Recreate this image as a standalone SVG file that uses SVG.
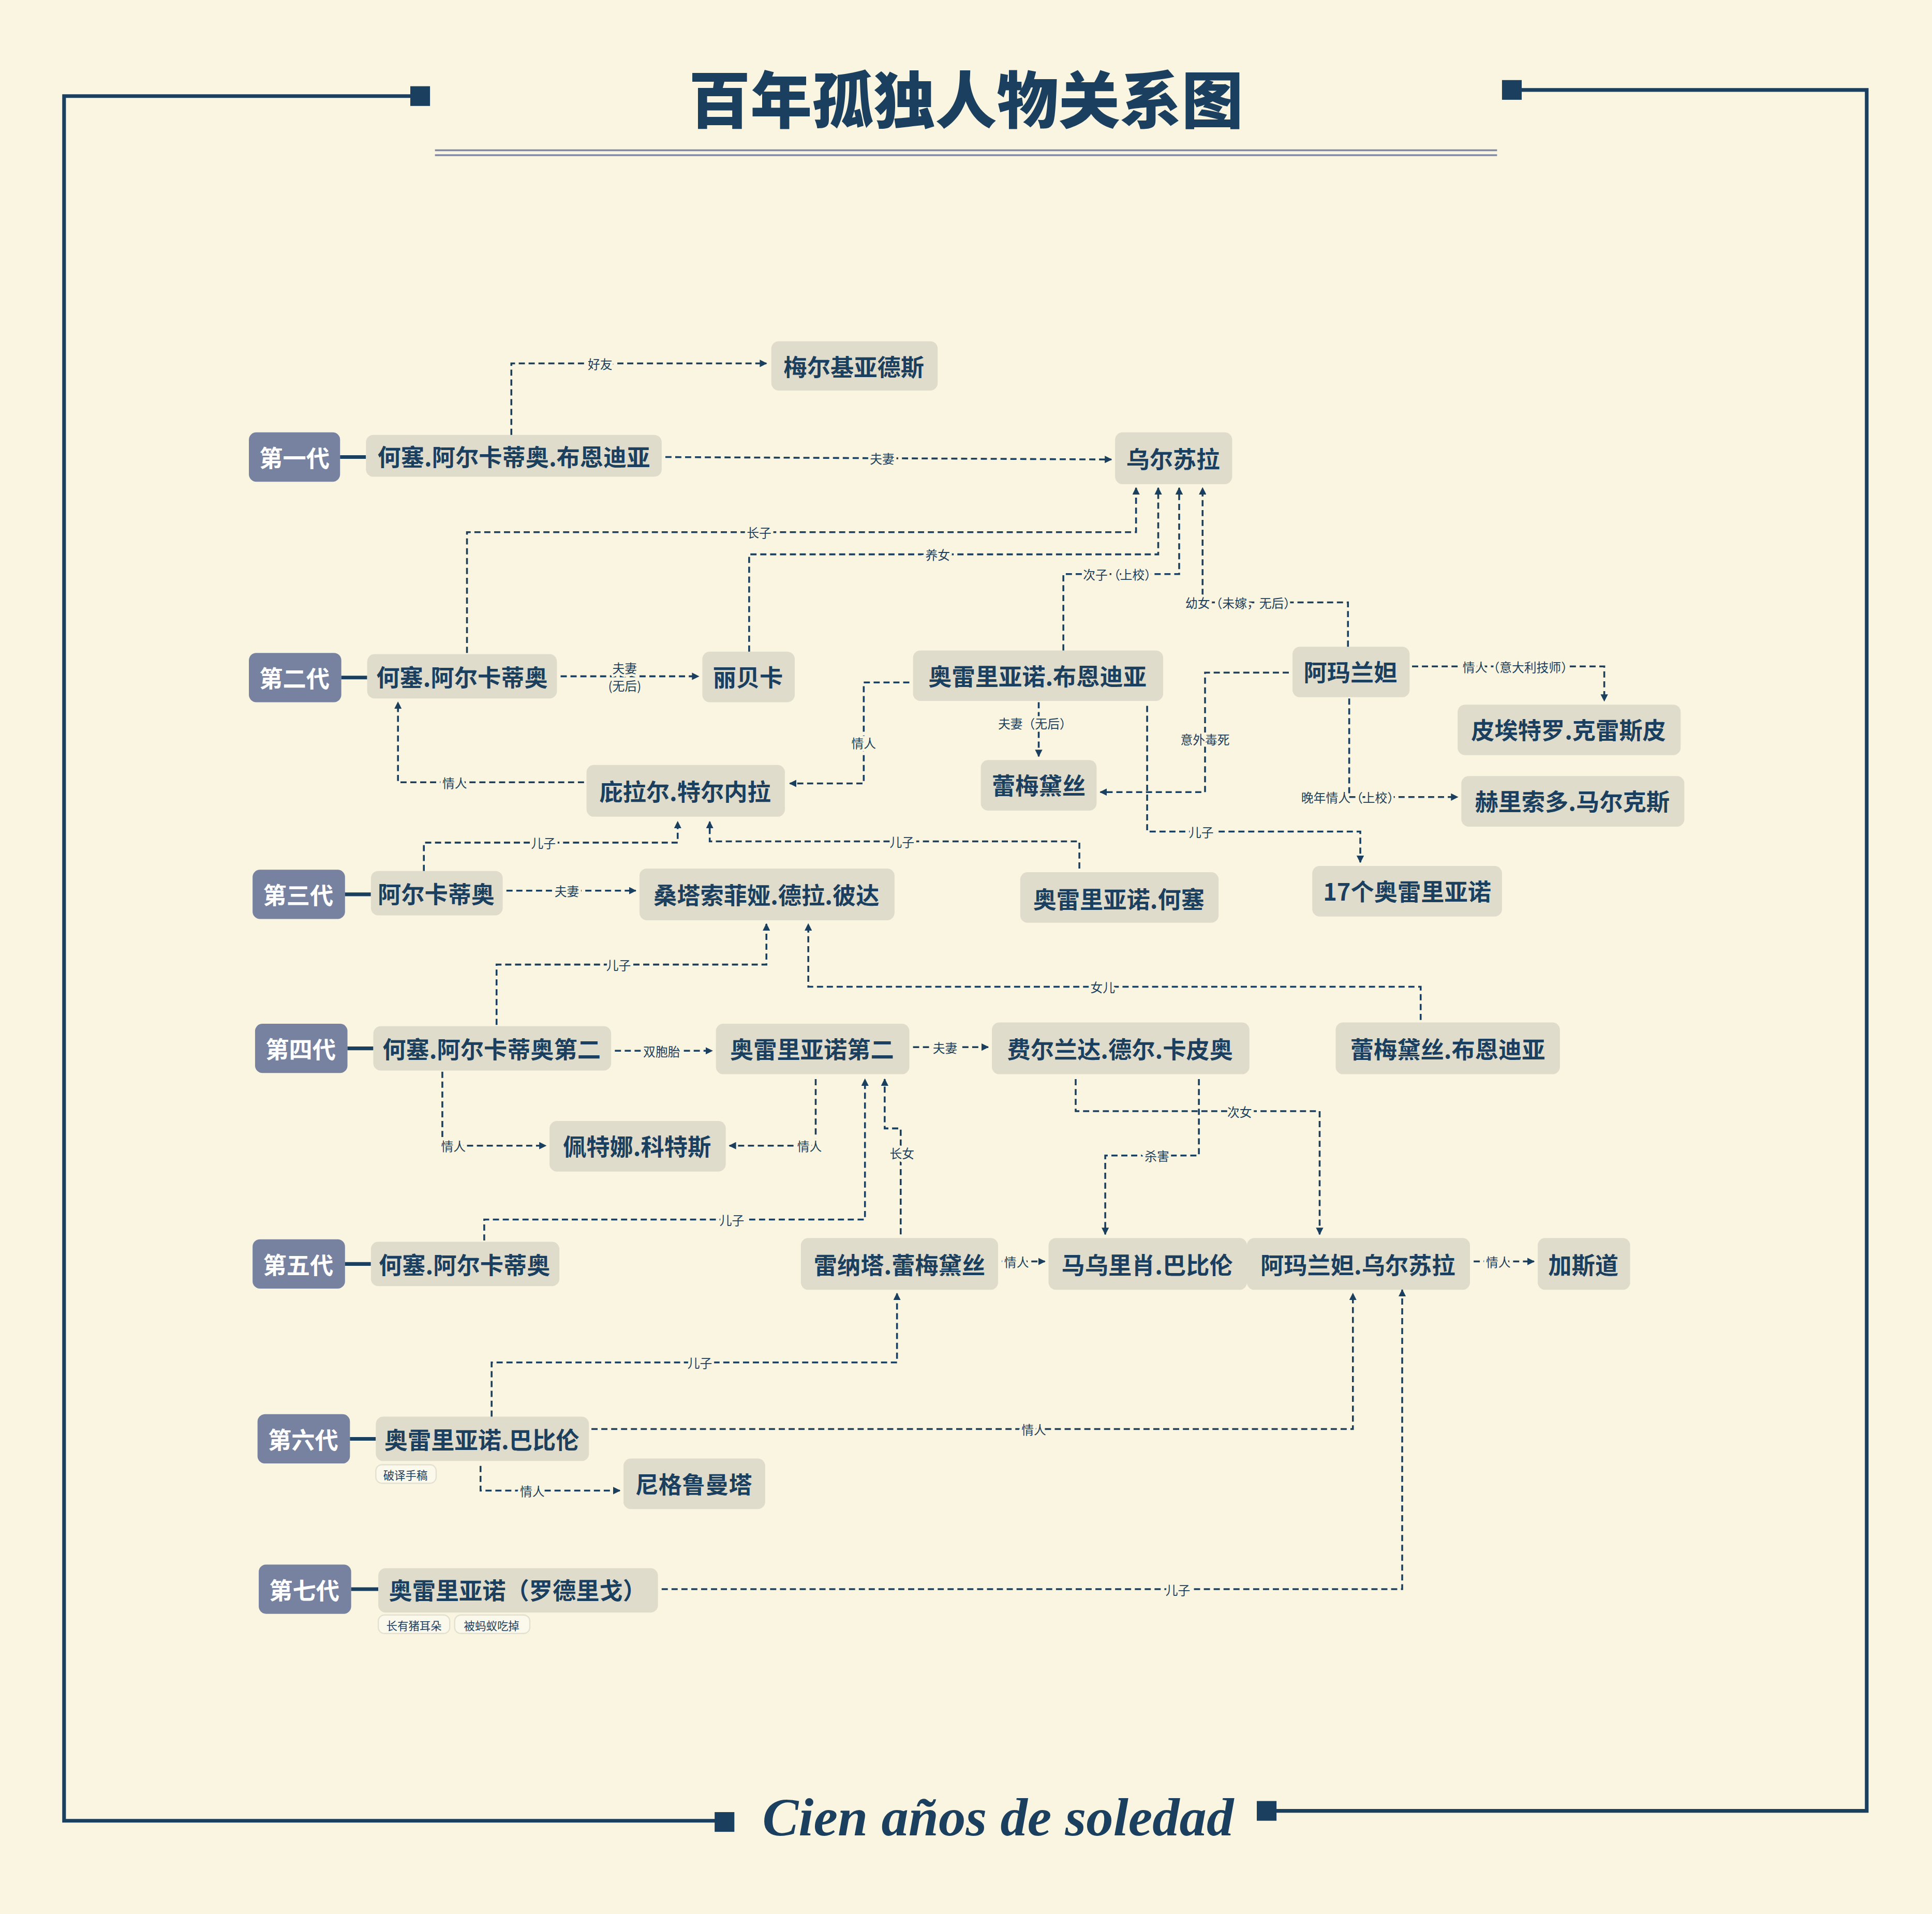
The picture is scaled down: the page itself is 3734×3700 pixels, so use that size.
<svg xmlns="http://www.w3.org/2000/svg" width="3734" height="3700" viewBox="0 0 3734 3700">
<style>
.n rect{fill:#DFDCCC}
.n text{font-family:"Noto Sans CJK SC",sans-serif;font-weight:700;font-size:19px;fill:#1B3F5E;text-anchor:middle;dominant-baseline:central}
.g rect{fill:#7682A0}
.g text{font-family:"Noto Sans CJK SC",sans-serif;font-weight:700;font-size:19px;fill:#fff;text-anchor:middle;dominant-baseline:central}
.t rect{fill:#FBF8EC;stroke:#E3E0D0;stroke-width:1}
.t text{font-family:"Noto Sans CJK SC",sans-serif;font-size:9px;fill:#1B3F5E;text-anchor:middle;dominant-baseline:central}
.e path{fill:none;stroke:#1B3F5E;stroke-width:1.5;stroke-dasharray:5 3}
.e path.a{marker-end:url(#ar)}
.e text{font-family:"Noto Sans CJK SC",sans-serif;font-size:10px;fill:#1B3F5E;text-anchor:middle;dominant-baseline:central;stroke:#FAF5E0;stroke-width:4;paint-order:stroke}
.s{stroke:#1B3F5E;stroke-width:3;fill:none}
</style>
<defs>
<marker id="ar" viewBox="0 0 10 10" refX="9" refY="5" markerWidth="6" markerHeight="6" markerUnits="userSpaceOnUse" orient="auto"><path d="M0,0L10,5L0,10z" fill="#1B3F5E"/></marker>
</defs>
<rect width="3734" height="3700" fill="#FAF5E0"/>
<g transform="scale(2.3814)">
<g id="frame">
<path class="s" d="M340,78H52V1478H588"/>
<rect x="333" y="70" width="16" height="16" fill="#1B3F5E"/>
<rect x="580" y="1471" width="16" height="16" fill="#1B3F5E"/>
<path class="s" d="M1228,73H1515V1470H1028"/>
<rect x="1219" y="65" width="16" height="16" fill="#1B3F5E"/>
<rect x="1020" y="1462" width="16" height="16" fill="#1B3F5E"/>
<path d="M353,122H1215M353,126H1215" stroke="#7F8AA8" stroke-width="1.5"/>
<text x="784" y="100" font-family="Noto Sans CJK SC,sans-serif" font-weight="900" font-size="50" fill="#1B3F5E" text-anchor="middle">百年孤独人物关系图</text>
<text x="810" y="1490" font-family="Liberation Serif,serif" font-style="italic" font-weight="700" font-size="44" fill="#1B3F5E" text-anchor="middle">Cien años de soledad</text>
</g>
<g id="gens" class="g">
<rect x="202" y="351" width="74" height="40" rx="6"/><text x="239" y="371">第一代</text>
<rect x="202" y="530" width="75" height="40" rx="6"/><text x="239" y="550">第二代</text>
<rect x="205" y="706" width="75" height="40" rx="6"/><text x="242" y="726">第三代</text>
<rect x="207" y="831" width="75" height="40" rx="6"/><text x="244" y="851">第四代</text>
<rect x="205" y="1006" width="75" height="40" rx="6"/><text x="242" y="1026">第五代</text>
<rect x="209" y="1148" width="75" height="40" rx="6"/><text x="246" y="1168">第六代</text>
<rect x="210" y="1270" width="75" height="40" rx="6"/><text x="247" y="1290">第七代</text>
<path class="s" d="M276,371H297M277,550H298M280,726H301M282,851H303M280,1026H301M284,1168H305M285,1290H307"/>
</g>
<g id="n1" class="n"><rect x="297" y="353" width="240" height="34" rx="6"/><text x="417" y="370">何塞.阿尔卡蒂奥.布恩迪亚</text></g>
<g id="n2" class="n"><rect x="626" y="277" width="135" height="40" rx="6"/><text x="693" y="297">梅尔基亚德斯</text></g>
<g id="n3" class="n"><rect x="905" y="351" width="95" height="42" rx="6"/><text x="952" y="372">乌尔苏拉</text></g>
<g id="n4" class="n"><rect x="298" y="531" width="154" height="36" rx="6"/><text x="375" y="549">何塞.阿尔卡蒂奥</text></g>
<g id="n5" class="n"><rect x="570" y="529" width="75" height="41" rx="6"/><text x="607" y="549">丽贝卡</text></g>
<g id="n6" class="n"><rect x="741" y="528" width="203" height="41" rx="6"/><text x="842" y="548">奥雷里亚诺.布恩迪亚</text></g>
<g id="n7" class="n"><rect x="1049" y="525" width="95" height="41" rx="6"/><text x="1096" y="545">阿玛兰妲</text></g>
<g id="n8" class="n"><rect x="1183" y="572" width="181" height="41" rx="6"/><text x="1273" y="592">皮埃特罗.克雷斯皮</text></g>
<g id="n9" class="n"><rect x="796" y="617" width="94" height="41" rx="6"/><text x="843" y="637">蕾梅黛丝</text></g>
<g id="n10" class="n"><rect x="1186" y="630" width="181" height="41" rx="6"/><text x="1276" y="650">赫里索多.马尔克斯</text></g>
<g id="n11" class="n"><rect x="476" y="621" width="161" height="42" rx="6"/><text x="556" y="642">庇拉尔.特尔内拉</text></g>
<g id="n12" class="n"><rect x="301" y="707" width="107" height="36" rx="6"/><text x="354" y="725">阿尔卡蒂奥</text></g>
<g id="n13" class="n"><rect x="519" y="705" width="207" height="42" rx="6"/><text x="622" y="726">桑塔索菲娅.德拉.彼达</text></g>
<g id="n14" class="n"><rect x="828" y="708" width="161" height="41" rx="6"/><text x="908" y="729">奥雷里亚诺.何塞</text></g>
<g id="n15" class="n"><rect x="1065" y="703" width="154" height="41" rx="6"/><text x="1142" y="723">17个奥雷里亚诺</text></g>
<g id="n16" class="n"><rect x="303" y="833" width="193" height="36" rx="6"/><text x="399" y="851">何塞.阿尔卡蒂奥第二</text></g>
<g id="n17" class="n"><rect x="581" y="831" width="157" height="41" rx="6"/><text x="659" y="851">奥雷里亚诺第二</text></g>
<g id="n18" class="n"><rect x="805" y="830" width="209" height="42" rx="6"/><text x="909" y="851">费尔兰达.德尔.卡皮奥</text></g>
<g id="n19" class="n"><rect x="1084" y="830" width="182" height="42" rx="6"/><text x="1175" y="851">蕾梅黛丝.布恩迪亚</text></g>
<g id="n20" class="n"><rect x="446" y="910" width="143" height="41" rx="6"/><text x="517" y="930">佩特娜.科特斯</text></g>
<g id="n21" class="n"><rect x="301" y="1008" width="153" height="36" rx="6"/><text x="377" y="1026">何塞.阿尔卡蒂奥</text></g>
<g id="n22" class="n"><rect x="650" y="1005" width="160" height="42" rx="6"/><text x="730" y="1026">雷纳塔.蕾梅黛丝</text></g>
<g id="n23" class="n"><rect x="851" y="1005" width="161" height="42" rx="6"/><text x="931" y="1026">马乌里肖.巴比伦</text></g>
<g id="n24" class="n"><rect x="1012" y="1005" width="181" height="42" rx="6"/><text x="1102" y="1026">阿玛兰妲.乌尔苏拉</text></g>
<g id="n25" class="n"><rect x="1248" y="1005" width="75" height="42" rx="6"/><text x="1285" y="1026">加斯道</text></g>
<g id="n26" class="n"><rect x="305" y="1150" width="173" height="36" rx="6"/><text x="391" y="1168">奥雷里亚诺.巴比伦</text></g>
<g id="n27" class="n"><rect x="506" y="1184" width="115" height="41" rx="6"/><text x="563" y="1204">尼格鲁曼塔</text></g>
<g id="n28" class="n"><rect x="307" y="1273" width="227" height="36" rx="6"/><text x="420" y="1290">奥雷里亚诺（罗德里戈）</text></g>
<g id="tags" class="t">
<rect x="305" y="1189" width="49" height="15" rx="5"/><text x="329" y="1197">破译手稿</text>
<rect x="307" y="1311" width="58" height="15" rx="5"/><text x="336" y="1319">长有猪耳朵</text>
<rect x="369" y="1311" width="61" height="15" rx="5"/><text x="399" y="1319">被蚂蚁吃掉</text>
</g>
<g id="edges" class="e">
<path class="a" d="M415,353V295H622"/><text x="487" y="295">好友</text>
<path class="a" d="M540,371L902,373"/><text x="716" y="372">夫妻</text>
<path class="a" d="M379,530V432H922V396"/><text x="616" y="432">长子</text>
<path class="a" d="M608,529V450H940V396"/><text x="761" y="450">养女</text>
<path class="a" d="M863,528V466H957V396"/><text x="909" y="466">次子（上校）</text>
<path class="a" d="M1094,525V489H976V396"/><text x="1007" y="489">幼女（未嫁，无后）</text>
<path class="a" d="M455,549H567"/><text x="507" y="542">夫妻</text><text x="507" y="556">(无后)</text>
<path class="a" d="M474,635H323V570"/><text x="369" y="635">情人</text>
<path class="a" d="M738,554H701V636H641"/><text x="701" y="603">情人</text>
<path class="a" d="M843,570V614"/><text x="840" y="587">夫妻（无后）</text>
<path class="a" d="M1046,546H978V643H893"/><text x="978" y="600">意外毒死</text>
<path class="a" d="M1146,541H1302V569"/><text x="1232" y="541">情人（意大利技师）</text>
<path class="a" d="M1095,567V647H1183"/><text x="1096" y="647">晚年情人（上校）</text>
<path class="a" d="M931,573V675H1104V700"/><text x="975" y="675">儿子</text>
<path class="a" d="M344,707V684H550V667"/><text x="441" y="684">儿子</text>
<path class="a" d="M876,705V683H576V667"/><text x="732" y="683">儿子</text>
<path class="a" d="M411,723H516"/><text x="460" y="723">夫妻</text>
<path class="a" d="M403,832V783H622V750"/><text x="502" y="783">儿子</text>
<path class="a" d="M1153,828V801H656V750"/><text x="895" y="801">女儿</text>
<path class="a" d="M499,853H578"/><text x="537" y="853">双胞胎</text>
<path class="a" d="M741,850H802"/><text x="767" y="850">夫妻</text>
<path class="a" d="M359,870V930H443"/><text x="368" y="930">情人</text>
<path class="a" d="M662,876V930H592"/><text x="657" y="930">情人</text>
<path class="a" d="M393,1007V990H702V876"/><text x="594" y="990">儿子</text>
<path class="a" d="M731,1002V916H718V876"/><text x="732" y="936">长女</text>
<path class="a" d="M873,876V902H1071V1002"/><text x="1006" y="902">次女</text>
<path class="a" d="M973,876V938H897V1002"/><text x="939" y="938">杀害</text>
<path class="a" d="M813,1024H848"/><text x="825" y="1024">情人</text>
<path class="a" d="M1196,1024H1245"/><text x="1216" y="1024">情人</text>
<path class="a" d="M399,1150V1106H728V1050"/><text x="568" y="1106">儿子</text>
<path class="a" d="M480,1160H1098V1050"/><text x="839" y="1160">情人</text>
<path class="a" d="M390,1190V1210H503"/><text x="432" y="1210">情人</text>
<path class="a" d="M537,1290H1138V1047"/><text x="956" y="1290">儿子</text>
</g>
</g>
</svg>
